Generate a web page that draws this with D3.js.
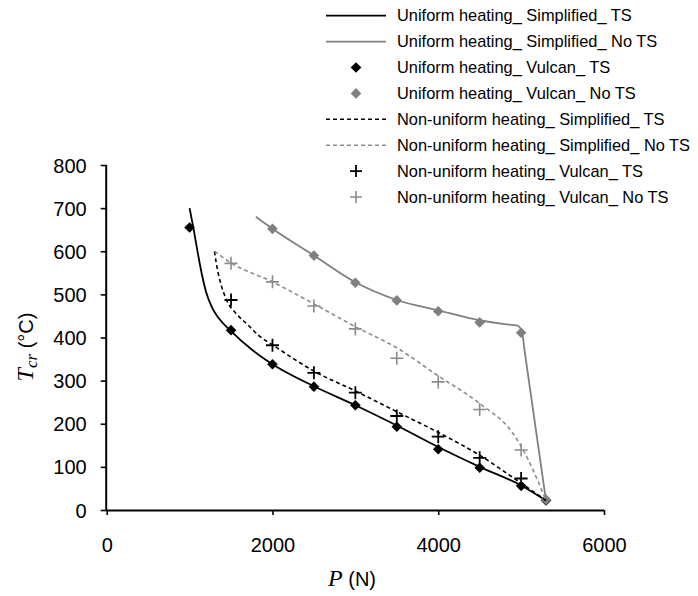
<!DOCTYPE html>
<html>
<head>
<meta charset="utf-8">
<script src="https://cdn.jsdelivr.net/npm/d3@7"></script>
<style>
  html, body { margin: 0; padding: 0; background: #fff; }
  svg { display: block; }
  .sans { font-family: "Liberation Sans", Arial, sans-serif; }
  .serif { font-family: "Liberation Serif", "Times New Roman", serif; }
  text, tspan { fill: #000; }
</style>
</head>
<body>
<svg id="chart" width="698" height="596"></svg>
<script>
// Axis ticks
const tickP = [0, 2000, 4000, 6000];
const tickT = [0, 100, 200, 300, 400, 500, 600, 700, 800];

// Legend labels (series order)
const seriesNames = [
  "Uniform heating_ Simplified_ TS",
  "Uniform heating_ Simplified_ No TS",
  "Uniform heating_ Vulcan_ TS",
  "Uniform heating_ Vulcan_ No TS",
  "Non-uniform heating_ Simplified_ TS",
  "Non-uniform heating_ Simplified_ No TS",
  "Non-uniform heating_ Vulcan_ TS",
  "Non-uniform heating_ Vulcan_ No TS"
];

// Simplified method curves: load P (N) and critical temperature (°C)
const uniSimpTS_P = [1000, 1050, 1100, 1150, 1200, 1270, 1350, 1500, 1750, 2000, 2500, 3000, 3500, 4000, 4500, 5000, 5300];
const uniSimpTS_T = [700, 650, 595, 545, 505, 470, 445, 415, 372, 338, 287, 243, 196, 146, 100, 57, 22];

const uniSimpNoTS_P = [1800, 2000, 2500, 3000, 3500, 4000, 4500, 4800, 4950, 5010, 5040, 5300];
const uniSimpNoTS_T = [680, 652, 590, 528, 487, 463, 440, 431, 428, 414, 372, 22];

const nonSimpTS_P = [1300, 1320, 1350, 1400, 1450, 1550, 1700, 1850, 2000, 2500, 3000, 3500, 4000, 4500, 5000, 5300];
const nonSimpTS_T = [600, 575, 545, 510, 485, 458, 430, 402, 383, 322, 276, 228, 180, 127, 62, 22];

const nonSimpNoTS_P = [1300, 1500, 2000, 2500, 3000, 3500, 4000, 4500, 4900, 5000, 5150, 5300];
const nonSimpNoTS_T = [600, 573, 529, 478, 425, 376, 311, 247, 178, 148, 90, 22];

// Vulcan results
const uniVulcanTS_P = [1000, 1500, 2000, 2500, 3000, 3500, 4000, 4500, 5000, 5300];
const uniVulcanTS_T = [655, 417, 338, 286, 243, 193, 141, 98, 56, 22];

const uniVulcanNoTS_P = [2000, 2500, 3000, 3500, 4000, 4500, 5000, 5300];
const uniVulcanNoTS_T = [652, 590, 527, 486, 461, 435, 411, 24];

const nonVulcanTS_P = [1500, 2000, 2500, 3000, 3500, 4000, 4500, 5000];
const nonVulcanTS_T = [487, 382, 318, 272, 218, 170, 121, 73];

const nonVulcanNoTS_P = [1500, 2000, 2500, 3000, 3500, 4000, 4500, 5000];
const nonVulcanNoTS_T = [572, 529, 473, 420, 352, 297, 233, 139];

const BLACK = "#000000";
const GREY = "#808080";
const GREY_DASH = "#8c8c8c";

const svg = d3.select("#chart");
svg.append("rect").attr("width", 698).attr("height", 596).attr("fill", "#fff");

const x = d3.scaleLinear().domain([0, 6000]).range([106.7, 604]);
const y = d3.scaleLinear().domain([0, 800]).range([510, 165]);

const zip = (ps, ts) => ps.map((p, i) => [p, ts[i]]);
const line = d3.line().x(d => x(d[0])).y(d => y(d[1])).curve(d3.curveMonotoneX);

const diamond = d3.symbol().type(d3.symbolDiamond2).size(72);

function plusPath(half) {
  return `M${-half},0H${half}M0,${-half}V${half}`;
}

const series = [
  { type: "line", data: zip(uniSimpTS_P, uniSimpTS_T), color: BLACK, dash: null, width: 1.8 },
  { type: "line", data: zip(uniSimpNoTS_P, uniSimpNoTS_T), color: GREY, dash: null, width: 1.8 },
  { type: "diamond", data: zip(uniVulcanTS_P, uniVulcanTS_T), color: BLACK },
  { type: "diamond", data: zip(uniVulcanNoTS_P, uniVulcanNoTS_T), color: GREY },
  { type: "line", data: zip(nonSimpTS_P, nonSimpTS_T), color: BLACK, dash: "4,3", width: 1.6 },
  { type: "line", data: zip(nonSimpNoTS_P, nonSimpNoTS_T), color: GREY_DASH, dash: "4,3", width: 1.6 },
  { type: "plus", data: zip(nonVulcanTS_P, nonVulcanTS_T), color: BLACK, width: 1.8 },
  { type: "plus", data: zip(nonVulcanNoTS_P, nonVulcanNoTS_T), color: GREY_DASH, width: 1.6 }
];

// Axes
const xAxis = d3.axisBottom(x).tickValues(tickP).tickSize(5).tickFormat(d3.format("d"));
const yAxis = d3.axisLeft(y).tickValues(tickT).tickSize(6).tickFormat(d3.format("d"));

const gx = svg.append("g").attr("transform", "translate(0,510)").call(xAxis);
const gy = svg.append("g").attr("transform", "translate(106.7,0)").call(yAxis);
[gx, gy].forEach(g => {
  g.select(".domain").attr("stroke", "#000").attr("stroke-width", 2);
  g.selectAll(".tick line").attr("stroke", "#000").attr("stroke-width", 1.6);
  g.selectAll(".tick text").attr("class", "sans").attr("font-size", 20).attr("fill", "#000");
});
gx.select(".domain").attr("d", `M${x(0)},0.5H${x(6000)}`);
gy.select(".domain").attr("d", `M-0.5,${y(800)}V${y(0)}`);
gx.selectAll(".tick text").attr("dy", null).attr("y", 42);
gy.selectAll(".tick text").attr("x", -20).attr("dy", "0.35em");

// Series marks
const plot = svg.append("g");
series.forEach(s => {
  if (s.type === "line") {
    plot.append("path").datum(s.data)
      .attr("d", line).attr("fill", "none")
      .attr("stroke", s.color).attr("stroke-width", s.width)
      .attr("stroke-dasharray", s.dash);
  } else if (s.type === "diamond") {
    plot.append("g").selectAll("path").data(s.data).join("path")
      .attr("transform", d => `translate(${x(d[0])},${y(d[1])})`)
      .attr("d", diamond).attr("fill", s.color);
  } else {
    plot.append("g").selectAll("path").data(s.data).join("path")
      .attr("transform", d => `translate(${x(d[0])},${y(d[1])})`)
      .attr("d", plusPath(6.5)).attr("fill", "none")
      .attr("stroke", s.color).attr("stroke-width", s.width);
  }
});

// Legend
const legend = svg.append("g");
const rowY = i => 15.7 + i * 25.9;
series.forEach((s, i) => {
  const g = legend.append("g").attr("transform", `translate(0,${rowY(i)})`);
  if (s.type === "line") {
    g.append("line").attr("x1", 326).attr("x2", 386).attr("y1", 0).attr("y2", 0)
      .attr("stroke", s.color).attr("stroke-width", s.width).attr("stroke-dasharray", s.dash);
  } else if (s.type === "diamond") {
    g.append("path").attr("transform", "translate(356,0)").attr("d", diamond).attr("fill", s.color);
  } else {
    g.append("path").attr("transform", "translate(356,0)").attr("d", plusPath(6))
      .attr("fill", "none").attr("stroke", s.color).attr("stroke-width", s.width);
  }
  g.append("text").attr("class", "sans").attr("x", 397).attr("y", 0).attr("dy", "0.35em")
    .attr("font-size", 16.4).attr("fill", "#000").text(seriesNames[i]);
});

// Axis titles
const xt = svg.append("text").attr("x", 352).attr("y", 586).attr("text-anchor", "middle").attr("fill", "#000");
xt.append("tspan").attr("class", "serif").attr("font-style", "italic").attr("font-size", 24).attr("fill", "#000").text("P");
xt.append("tspan").attr("class", "sans").attr("font-size", 20).attr("fill", "#000").text(" (N)");

const yt = svg.append("text").attr("transform", "translate(33,347) rotate(-90)")
  .attr("text-anchor", "middle").attr("fill", "#000");
yt.append("tspan").attr("class", "serif").attr("font-style", "italic").attr("font-size", 24).attr("fill", "#000").text("T");
yt.append("tspan").attr("class", "serif").attr("font-style", "italic").attr("font-size", 17).attr("fill", "#000").attr("dy", 4).text("cr");
yt.append("tspan").attr("class", "sans").attr("font-size", 20).attr("fill", "#000").attr("dy", -4).text(" (°C)");
</script>
</body>
</html>
